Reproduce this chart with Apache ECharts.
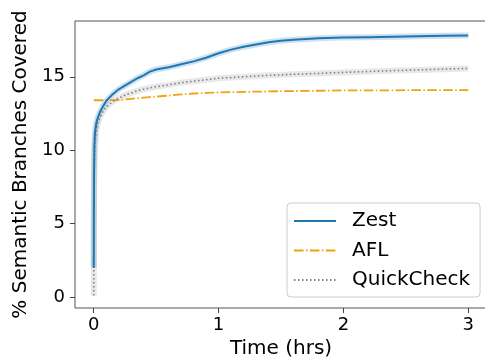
<!DOCTYPE html>
<html>
<head>
<meta charset="utf-8">
<script src="https://cdn.jsdelivr.net/npm/echarts@6/dist/echarts.min.js"></script>
<style>html,body{margin:0;padding:0;background:#fff;}#c{width:485px;height:359px;}</style>
</head>
<body>
<div id="c"></div>
<script>
// Time in hours (shared sample points)
var times = [0, 0.002, 0.005, 0.01, 0.02, 0.03, 0.05, 0.075, 0.1, 0.15, 0.2, 0.25, 0.3, 0.35, 0.4, 0.45, 0.5, 0.6, 0.7, 0.8, 0.9, 1.0, 1.1, 1.2, 1.3, 1.4, 1.5, 1.6, 1.8, 2.0, 2.2, 2.4, 2.6, 2.8, 3.0];
// % semantic branches covered
var zest = [2.0, 8.0, 10.3, 11.2, 11.8, 12.15, 12.6, 13.0, 13.35, 13.8, 14.15, 14.4, 14.65, 14.9, 15.1, 15.35, 15.5, 15.65, 15.85, 16.05, 16.3, 16.6, 16.85, 17.05, 17.2, 17.35, 17.45, 17.52, 17.62, 17.67, 17.7, 17.73, 17.76, 17.79, 17.82];
var afl = [13.4, 13.4, 13.4, 13.4, 13.4, 13.4, 13.4, 13.4, 13.4, 13.41, 13.42, 13.45, 13.5, 13.54, 13.58, 13.62, 13.65, 13.72, 13.8, 13.86, 13.9, 13.93, 13.95, 13.97, 13.99, 14.0, 14.02, 14.03, 14.05, 14.07, 14.08, 14.08, 14.09, 14.09, 14.09];
var quickcheck = [0.1, 6.0, 9.0, 10.4, 11.3, 11.8, 12.25, 12.65, 12.95, 13.3, 13.55, 13.75, 13.9, 14.05, 14.15, 14.25, 14.32, 14.45, 14.6, 14.7, 14.8, 14.9, 14.95, 15.0, 15.05, 15.1, 15.13, 15.17, 15.23, 15.3, 15.36, 15.42, 15.47, 15.52, 15.57];
var xTicks = [0, 1, 2, 3];
var yTicks = [0, 5, 10, 15];

function pairs(vals) { return times.map(function (t, i) { return [t, vals[i]]; }); }

var font = 'DejaVu Sans';
var chart = echarts.init(document.getElementById('c'), null, { renderer: 'canvas' });
chart.setOption({
  animation: false,
  backgroundColor: '#fff',
  grid: { left: 75, top: 21, width: 412, height: 287, containLabel: false, outerBoundsMode: 'none',
          show: true, borderColor: '#555', borderWidth: 1, backgroundColor: 'transparent' },
  xAxis: {
    type: 'value', min: -0.15, max: 3.15,
    name: 'Time (hrs)', nameLocation: 'middle', nameGap: 30,
    nameTextStyle: { fontFamily: font, fontSize: 20, color: '#000' },
    axisLine: { show: false, onZero: false },
    axisTick: { show: true, customValues: xTicks, length: 5, lineStyle: { color: '#444' } },
    axisLabel: { customValues: xTicks, fontFamily: font, fontSize: 18, color: '#000', margin: 8 },
    splitLine: { show: false }
  },
  yAxis: {
    type: 'value', min: -0.75, max: 18.8,
    name: '% Semantic Branches Covered', nameLocation: 'middle', nameGap: 31,
    nameTextStyle: { fontFamily: font, fontSize: 20, color: '#000' },
    axisLine: { show: false, onZero: false },
    axisTick: { show: true, customValues: yTicks, length: 5, lineStyle: { color: '#444' } },
    axisLabel: { customValues: yTicks, fontFamily: font, fontSize: 18, color: '#000', margin: 10 },
    splitLine: { show: false }
  },
  legend: {
    data: ['Zest', 'AFL', 'QuickCheck'],
    orient: 'vertical', left: 287, top: 203,
    width: 190,
    padding: [8, 10, 7, 6],
    itemWidth: 42, itemHeight: 14, itemGap: 9.5,
    borderColor: '#ccc', borderWidth: 1, borderRadius: 4,
    backgroundColor: 'rgba(255,255,255,0.8)',
    itemStyle: { color: 'transparent', borderWidth: 0, opacity: 0 },
    textStyle: { fontFamily: font, fontSize: 20, color: '#000', lineHeight: 20, padding: [0, 0, 0, 11] }
  },
  series: [
    { name: 'zestBand', type: 'line', data: pairs(zest), showSymbol: false, symbol: 'none', silent: true,
      lineStyle: { color: 'rgba(31,119,180,0.22)', width: 6 } },
    { name: 'qcBand', type: 'line', data: pairs(quickcheck), showSymbol: false, symbol: 'none', silent: true,
      lineStyle: { color: 'rgba(128,128,128,0.18)', width: 6 } },
    { name: 'AFL', type: 'line', data: pairs(afl), showSymbol: false, symbol: 'none',
      itemStyle: { color: '#F0A30A' },
      lineStyle: { color: '#F0A30A', width: 1.8, type: [9.6, 2.4, 1.5, 2.4] } },
    { name: 'QuickCheck', type: 'line', data: pairs(quickcheck), showSymbol: false, symbol: 'none',
      itemStyle: { color: '#808080' },
      lineStyle: { color: '#808080', width: 1.6, type: [1.5, 2.5] } },
    { name: 'Zest', type: 'line', data: pairs(zest), showSymbol: false, symbol: 'none',
      itemStyle: { color: '#1f77b4' },
      lineStyle: { color: '#1f77b4', width: 2 } }
  ]
});
</script>
</body>
</html>
